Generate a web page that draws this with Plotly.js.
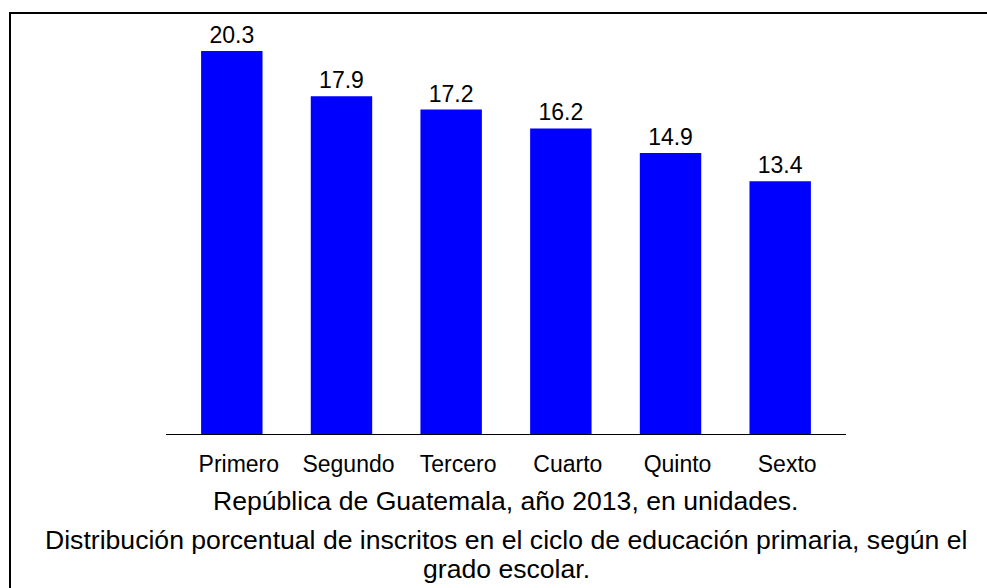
<!DOCTYPE html>
<html>
<head>
<meta charset="utf-8">
<script src="https://cdn.plot.ly/plotly-3.0.1.min.js"></script>
<style>
  html, body { margin: 0; padding: 0; overflow: hidden; background: #fff; }
  #chart { width: 987px; height: 588px; }
  #frame {
    position: absolute; left: 9px; top: 12px;
    width: 1100px; height: 700px;
    border: 2px solid #000; pointer-events: none;
  }
</style>
</head>
<body>
<div id="chart"></div>
<div id="frame"></div>
<script>
// grados del ciclo de primaria
const grados = ["Primero", "Segundo", "Tercero", "Cuarto", "Quinto", "Sexto"];
// distribución porcentual de inscritos
const porcentajes = [20.3, 17.9, 17.2, 16.2, 14.9, 13.4];

const subtitulo = "República de Guatemala, año 2013, en unidades.";
const tituloLineas = [
    "Distribución porcentual de inscritos en el ciclo de educación primaria, según el",
    "grado escolar."
];

const family = "Liberation Sans, Arial, sans-serif";
const font = { family, size: 23, color: "#000" };
const titleFont = { family, size: 26.6, color: "#000" };

const data = [{
    type: "bar",
    x: grados,
    y: porcentajes,
    text: porcentajes.map(v => v.toFixed(1)),
    textposition: "outside",
    cliponaxis: false,
    textfont: font,
    marker: { color: "#0000ff" },
    hoverinfo: "none"
}];

const note = (text, yshift) => ({
    text, xref: "paper", yref: "paper", x: 0.5, y: 0,
    yanchor: "middle", yshift, showarrow: false, font: titleFont
});

const layout = {
    width: 987,
    height: 588,
    margin: { l: 166, r: 141, t: 19, b: 154 },
    paper_bgcolor: "#fff",
    plot_bgcolor: "#fff",
    font: font,
    showlegend: false,
    bargap: 0.44,
    xaxis: {
        type: "category",
        range: [-0.6, 5.6],
        showline: true,
        linecolor: "#000",
        linewidth: 1,
        showgrid: false,
        zeroline: false,
        ticks: "",
        ticklabelstandoff: 9,
        ticklabelshift: 7,
        tickfont: font,
        fixedrange: true
    },
    yaxis: {
        range: [0, 22],
        visible: false,
        showgrid: false,
        zeroline: false,
        fixedrange: true
    },
    annotations: [
        note(subtitulo, -67),
        note(tituloLineas[0], -106),
        note(tituloLineas[1], -135)
    ]
};

Plotly.newPlot("chart", data, layout, { displayModeBar: false, staticPlot: true });
</script>
</body>
</html>
